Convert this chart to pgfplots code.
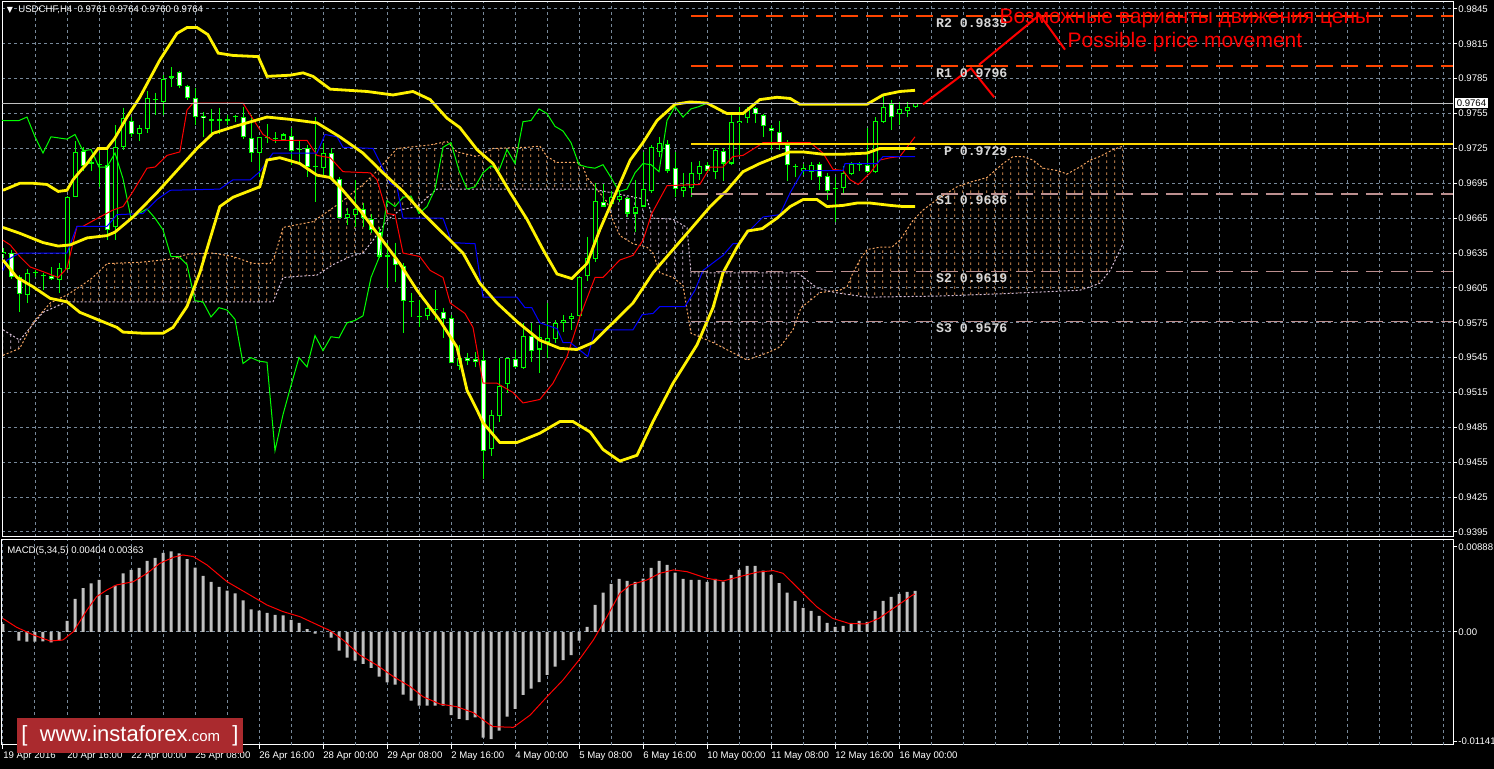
\documentclass[border=0pt]{standalone}
\usepackage{fontspec}
\setmainfont{Liberation Sans}
\newfontfamily\monofont{Liberation Mono}
\newfontfamily\symfont{DejaVu Sans}
\usepackage{pgfplots}
\usepackage{pgfplotstable}
\pgfplotsset{compat=1.18}
\usepgfplotslibrary{fillbetween}
\usetikzlibrary{patterns}

\definecolor{gridc}{RGB}{119,136,153}
\definecolor{cgreen}{RGB}{0,255,0}
\definecolor{sandy}{RGB}{244,164,96}
\definecolor{thist}{RGB}{216,191,216}
\definecolor{rosy}{RGB}{188,143,143}
\definecolor{ored}{RGB}{255,69,0}
\definecolor{gold}{RGB}{255,215,0}
\definecolor{silv}{RGB}{192,192,192}
\definecolor{logored}{RGB}{170,42,46}
\definecolor{pivtxt}{RGB}{215,215,215}

% dotted vertical hatch of the Ichimoku cloud, one line per bar
\pgfdeclarepatternformonly{kumo}{\pgfpointorigin}{\pgfpoint{4pt}{3pt}}{\pgfpoint{4pt}{3pt}}{%
  \pgfsetlinewidth{0.4pt}%
  \pgfpathmoveto{\pgfpoint{1.5pt}{0pt}}%
  \pgfpathlineto{\pgfpoint{1.5pt}{1.5pt}}%
  \pgfusepath{stroke}}

% USDCHF H4 candles, bar index i (0 = 19 Apr 08:00)
\pgfplotstableread{
i o h l c
0 0.9634 0.9639 0.9631 0.9636
1 0.9635 0.9638 0.9613 0.9614
2 0.9614 0.9616 0.9584 0.9600
3 0.9599 0.9621 0.9592 0.9618
4 0.9618 0.9620 0.9614 0.9618
5 0.9615 0.9618 0.9603 0.9615
6 0.9615 0.9623 0.9612 0.9613
7 0.9612 0.9626 0.9601 0.9622
8 0.9621 0.9684 0.9620 0.9683
9 0.9683 0.9731 0.9683 0.9722
10 0.9723 0.9726 0.9706 0.9710
11 0.9712 0.9715 0.9706 0.9712
12 0.9711 0.9721 0.9692 0.9711
13 0.9711 0.9724 0.9646 0.9655
14 0.9657 0.9745 0.9646 0.9726
15 0.9726 0.9760 0.9724 0.9751
16 0.9749 0.9752 0.9735 0.9737
17 0.9737 0.9745 0.9731 0.9743
18 0.9742 0.9774 0.9738 0.9768
19 0.9767 0.9773 0.9754 0.9767
20 0.9765 0.9788 0.9754 0.9785
21 0.9786 0.9795 0.9778 0.9786
22 0.9791 0.9792 0.9777 0.9779
23 0.9779 0.9780 0.9767 0.9768
24 0.9768 0.9777 0.9745 0.9752
25 0.9753 0.9756 0.9735 0.9751
26 0.9749 0.9759 0.9735 0.9749
27 0.9749 0.9760 0.9737 0.9749
28 0.9749 0.9754 0.9745 0.9749
29 0.9752 0.9754 0.9748 0.9752
30 0.9752 0.9761 0.9733 0.9735
31 0.9734 0.9754 0.9713 0.9721
32 0.9721 0.9735 0.9700 0.9735
33 0.9734 0.9746 0.9730 0.9734
34 0.9734 0.9739 0.9730 0.9733
35 0.9732 0.9738 0.9731 0.9737
36 0.9736 0.9743 0.9711 0.9723
37 0.9724 0.9731 0.9712 0.9724
38 0.9725 0.9728 0.9700 0.9709
39 0.9709 0.9752 0.9679 0.9709
40 0.9708 0.9730 0.9700 0.9721
41 0.9721 0.9725 0.9698 0.9699
42 0.9699 0.9700 0.9665 0.9665
43 0.9665 0.9674 0.9659 0.9669
44 0.9668 0.9698 0.9657 0.9673
45 0.9673 0.9678 0.9657 0.9665
46 0.9664 0.9669 0.9652 0.9655
47 0.9653 0.9657 0.9631 0.9632
48 0.9632 0.9644 0.9605 0.9632
49 0.9631 0.9644 0.9610 0.9625
50 0.9624 0.9626 0.9566 0.9594
51 0.9593 0.9601 0.9580 0.9593
52 0.9580 0.9595 0.9571 0.9580
53 0.9581 0.9592 0.9577 0.9588
54 0.9586 0.9603 0.9577 0.9586
55 0.9584 0.9588 0.9562 0.9578
56 0.9579 0.9582 0.9540 0.9540
57 0.9538 0.9556 0.9534 0.9545
58 0.9545 0.9549 0.9539 0.9542
59 0.9544 0.9550 0.9537 0.9541
60 0.9543 0.9552 0.9441 0.9465
61 0.9466 0.9500 0.9460 0.9496
62 0.9495 0.9545 0.9490 0.9521
63 0.9522 0.9545 0.9515 0.9545
64 0.9544 0.9552 0.9536 0.9537
65 0.9536 0.9575 0.9535 0.9564
66 0.9564 0.9575 0.9541 0.9551
67 0.9552 0.9573 0.9532 0.9563
68 0.9558 0.9592 0.9545 0.9562
69 0.9561 0.9577 0.9558 0.9575
70 0.9575 0.9582 0.9567 0.9577
71 0.9578 0.9583 0.9569 0.9581
72 0.9581 0.9614 0.9577 0.9614
73 0.9615 0.9649 0.9611 0.9631
74 0.9630 0.9695 0.9627 0.9680
75 0.9679 0.9694 0.9675 0.9675
76 0.9677 0.9688 0.9675 0.9683
77 0.9681 0.9689 0.9679 0.9684
78 0.9682 0.9683 0.9666 0.9669
79 0.9669 0.9698 0.9653 0.9675
80 0.9675 0.9722 0.9675 0.9690
81 0.9688 0.9728 0.9687 0.9726
82 0.9722 0.9735 0.9718 0.9730
83 0.9729 0.9732 0.9704 0.9706
84 0.9708 0.9722 0.9683 0.9690
85 0.9688 0.9704 0.9683 0.9692
86 0.9691 0.9713 0.9683 0.9704
87 0.9703 0.9714 0.9698 0.9710
88 0.9711 0.9713 0.9704 0.9706
89 0.9705 0.9725 0.9699 0.9724
90 0.9723 0.9725 0.9697 0.9712
91 0.9712 0.9754 0.9711 0.9748
92 0.9747 0.9761 0.9719 0.9749
93 0.9751 0.9761 0.9747 0.9759
94 0.9760 0.9761 0.9747 0.9755
95 0.9754 0.9755 0.9735 0.9744
96 0.9743 0.9745 0.9724 0.9740
97 0.9739 0.9749 0.9724 0.9730
98 0.9728 0.9732 0.9697 0.9711
99 0.9709 0.9712 0.9700 0.9709
100 0.9706 0.9712 0.9702 0.9708
101 0.9705 0.9713 0.9698 0.9711
102 0.9712 0.9713 0.9689 0.9700
103 0.9701 0.9704 0.9681 0.9688
104 0.9690 0.9700 0.9662 0.9690
105 0.9691 0.9710 0.9685 0.9704
106 0.9703 0.9713 0.9702 0.9712
107 0.9711 0.9713 0.9706 0.9711
108 0.9711 0.9743 0.9704 0.9705
109 0.9705 0.9752 0.9704 0.9749
110 0.9748 0.9771 0.9747 0.9761
111 0.9763 0.9767 0.9741 0.9752
112 0.9755 0.9765 0.9745 0.9759
113 0.9757 0.9765 0.9752 0.9761
114 0.9761 0.9764 0.9760 0.9764
}\candles

% MACD(5,34,5) histogram
\pgfplotstableread{
i m
0 0.00083
1 0.00003
2 -0.00090
3 -0.00101
4 -0.00101
5 -0.00097
6 -0.00108
7 -0.00090
8 0.00115
9 0.00344
10 0.00458
11 0.00507
12 0.00542
13 0.00385
14 0.00483
15 0.00611
16 0.00646
17 0.00667
18 0.00740
19 0.00771
20 0.00823
21 0.00840
22 0.00819
23 0.00760
24 0.00670
25 0.00583
26 0.00521
27 0.00469
28 0.00431
29 0.00403
30 0.00330
31 0.00236
32 0.00222
33 0.00198
34 0.00177
35 0.00174
36 0.00125
37 0.00094
38 0.00031
39 -0.00017
40 -0.00003
41 -0.00059
42 -0.00194
43 -0.00267
44 -0.00299
45 -0.00333
46 -0.00375
47 -0.00465
48 -0.00524
49 -0.00549
50 -0.00653
51 -0.00715
52 -0.00767
53 -0.00767
54 -0.00767
55 -0.00767
56 -0.00865
57 -0.00906
58 -0.00917
59 -0.00889
60 -0.01101
61 -0.01115
62 -0.01028
63 -0.00882
64 -0.00802
65 -0.00656
66 -0.00590
67 -0.00521
68 -0.00448
69 -0.00361
70 -0.00292
71 -0.00240
72 -0.00090
73 0.00052
74 0.00281
75 0.00410
76 0.00500
77 0.00552
78 0.00531
79 0.00521
80 0.00556
81 0.00667
82 0.00740
83 0.00698
84 0.00618
85 0.00552
86 0.00542
87 0.00542
88 0.00521
89 0.00552
90 0.00524
91 0.00594
92 0.00646
93 0.00688
94 0.00688
95 0.00639
96 0.00594
97 0.00510
98 0.00410
99 0.00323
100 0.00250
101 0.00219
102 0.00167
103 0.00094
104 0.00052
105 0.00063
106 0.00087
107 0.00115
108 0.00104
109 0.00219
110 0.00323
111 0.00365
112 0.00396
113 0.00417
114 0.00427
}\macd

\newcommand\tl{\fontsize{4.8pt}{5.5pt}\selectfont}

\pgfplotsset{
  mt/.style={
    scale only axis, anchor=south west, width=725.5pt,
    xmin=-0.125, xmax=181.25,
    axis line style={white, line width=0.5pt},
    tick style={white, line width=0.5pt},
    tick align=outside, major tick length=2pt,
    ytick pos=right, yticklabel pos=right,
    major grid style={gridc, line width=0.5pt, dash pattern=on 1.5pt off 1.5pt},
    tick label style={white, font=\tl},
    yticklabel style={anchor=west, inner sep=0pt, xshift=0.5pt},
    scaled ticks=false,
  },
  candle/.style={only marks, mark=text, text mark={}, error bars/.cd, y dir=plus, y explicit, error mark=none},
}

\pagecolor{black}

\begin{document}
\begin{tikzpicture}

% ---------------- price window ----------------
\begin{axis}[mt, at={(1pt,116pt)}, height=267.5pt,
  ymin=0.93907, ymax=0.98510,
  xtick={4,8,...,180}, xticklabels={}, xtick style={draw=none}, xmajorgrids=true,
  ytick={0.9395,0.9425,0.9455,0.9485,0.9515,0.9545,0.9575,0.9605,0.9635,0.9665,0.9695,0.9725,0.9755,0.9785,0.9815,0.9845},
  yticklabels={0.9395,0.9425,0.9455,0.9485,0.9515,0.9545,0.9575,0.9605,0.9635,0.9665,0.9695,0.9725,0.9755,0.9785,0.9815,0.9845},
  ymajorgrids=true]

% Ichimoku cloud: Senkou Span A and B
\addplot[name path=A, sandy, line width=0.5pt, dash pattern=on 1pt off 1pt] coordinates {
(0,0.9547) (2.1,0.9553) (3.75,0.9575) (5.9,0.9592) (8,0.9599) (9.6,0.9606) (11.25,0.9614) (13,0.9626)
(17.1,0.9627) (21.25,0.9630) (23,0.9634) (26.25,0.9635) (28.75,0.9632) (31.25,0.9626) (33.4,0.9626)
(34,0.9633) (35,0.9657) (38.75,0.9662) (42.1,0.9678) (45,0.9694) (46.25,0.9702) (48.75,0.9721)
(49.25,0.9725) (53.4,0.9728) (55.5,0.9731) (56.75,0.9722) (59.25,0.9718) (61.25,0.9725) (65.5,0.9726)
(67.1,0.9727) (68,0.9718) (69.25,0.9713) (71.75,0.9713) (72.5,0.9709) (73,0.9700) (73.75,0.9694)
(75.5,0.9679) (76.25,0.9663) (77.1,0.9650) (78.75,0.9643) (80.5,0.9640) (81.25,0.9635) (82.1,0.9618)
(83.75,0.9614) (85,0.9607) (86,0.9566) (88.75,0.9558) (93,0.9543) (95.5,0.9549) (97.1,0.9554)
(98.75,0.9569) (99.75,0.9588) (100.5,0.9592) (102.1,0.9601) (104.6,0.9603) (105.5,0.9606)
(106.25,0.9618) (107.1,0.9629) (108,0.9638) (109.6,0.9640) (111.1,0.9640) (112.1,0.9646)
(113.75,0.9663) (115,0.9672) (116.75,0.9681) (119.25,0.9692) (120.9,0.9696) (123,0.9700)
(125,0.9712) (126.25,0.9718) (127.5,0.9718) (128.75,0.9715) (130,0.9708) (131.75,0.9706)
(133,0.9703) (134.6,0.9709) (135.9,0.9715) (137.1,0.9718) (138.75,0.9724) (140,0.9727)};
\addplot[name path=B, thist, line width=0.5pt, dash pattern=on 1pt off 1pt] coordinates {
(0,0.9569) (2.1,0.9560) (5,0.9584) (8,0.9593) (33.75,0.9593) (34.25,0.9601) (35,0.9614) (39.25,0.9616)
(41.25,0.9625) (43.4,0.9632) (45,0.9635) (46.25,0.9646) (48,0.9663) (49.6,0.9672) (51.75,0.9675)
(53.4,0.9685) (54.25,0.9690) (73.75,0.9690) (80.5,0.9681) (81.25,0.9665) (83.75,0.9664) (85.5,0.9657)
(86,0.9618) (99,0.9618) (99.5,0.9617) (101.75,0.9605) (104,0.9601) (108,0.9597) (117,0.9598)
(125,0.9600) (134.6,0.9603) (135.5,0.9605) (137.1,0.9609) (138.4,0.9620) (140,0.9643)};
\addplot[draw=none, pattern=kumo, pattern color=thist] fill between[of=A and B, soft clip={domain=0:5.8}];
\addplot[draw=none, pattern=kumo, pattern color=sandy] fill between[of=A and B, soft clip={domain=5.8:74.2}];
\addplot[draw=none, pattern=kumo, pattern color=thist] fill between[of=A and B, soft clip={domain=74.2:103.5}];
\addplot[draw=none, pattern=kumo, pattern color=sandy] fill between[of=A and B, soft clip={domain=103.5:140}];

% candles: wicks, body outline, hollow bull / white bear bodies
\addplot[cgreen, only marks, mark=text, text mark={}, error bars/.cd, y dir=minus, y explicit, error mark=none,
  error bar style={line width=0.5pt}]
  table[x=i, y=h, y error expr={\thisrow{h}-\thisrow{l}}] {\candles};
\addplot[cgreen, candle, error bar style={line width=2.5pt}]
  table[x=i, y expr={min(\thisrow{o},\thisrow{c})}, y error expr={max(abs(\thisrow{c}-\thisrow{o}),0.00009)}] {\candles};
\addplot[white, restrict expr to domain={\thisrow{o}-\thisrow{c}}{0.00019:1}, candle, error bar style={line width=1.5pt}]
  table[x=i, y expr={\thisrow{c}+0.00009}, y error expr={\thisrow{o}-\thisrow{c}-0.00018}] {\candles};
\addplot[black, restrict expr to domain={\thisrow{c}-\thisrow{o}}{0.00019:1}, candle, error bar style={line width=1.5pt}]
  table[x=i, y expr={\thisrow{o}+0.00009}, y error expr={\thisrow{c}-\thisrow{o}-0.00018}] {\candles};

% Chikou span: close shifted 26 bars back
\addplot[cgreen, line width=0.5pt] table[x expr={\thisrow{i}-26}, y=c] {\candles};
% Tenkan-sen
\addplot[red, line width=0.5pt] coordinates {
(0,0.9646) (0.9,0.9642) (2.1,0.9632) (3.4,0.9623) (5,0.9619) (6.9,0.9614) (8,0.9622) (9.25,0.9658)
(10,0.9658) (12.1,0.9666) (13.75,0.9672) (15,0.9675) (16.25,0.9688) (18,0.9708) (19,0.9709)
(20.5,0.9719) (22.1,0.9722) (23,0.9758) (23.75,0.9764) (30,0.9764) (30.9,0.9754) (32.5,0.9737)
(33.75,0.9732) (38,0.9732) (39.25,0.9719) (40.9,0.9717) (42.5,0.9705) (45.9,0.9704) (46.75,0.9698)
(48,0.9669) (49,0.9668) (50,0.9635) (52.1,0.9632) (53.4,0.9620) (55,0.9614) (55.9,0.9592)
(57.75,0.9583) (58.75,0.9571) (60,0.9523) (61.75,0.9523) (63.75,0.9515) (65,0.9506) (67.1,0.9509)
(68.75,0.9523) (70.5,0.9546) (72.1,0.9580) (74,0.9614) (75,0.9614) (77.1,0.9629) (78.75,0.9633)
(80,0.9646) (81.1,0.9669) (83,0.9693) (87.1,0.9694) (88.4,0.9709) (90,0.9709) (91.25,0.9718)
(92.5,0.9719) (94.6,0.9728) (95,0.9730) (100.9,0.9730) (102.5,0.9721) (103.75,0.9707) (105,0.9706)
(105.9,0.9698) (106.9,0.9694) (108.4,0.9704) (109.6,0.9715) (110.9,0.9717) (112.1,0.9718) (114,0.9735)};
% Kijun-sen
\addplot[blue, line width=0.5pt] coordinates {
(0,0.9620) (0.5,0.9629) (2.1,0.9635) (8,0.9635) (9.25,0.9658) (13,0.9658) (14.25,0.9668) (17.5,0.9669)
(19.25,0.9681) (20.9,0.9689) (27.1,0.9690) (28.75,0.9698) (30.9,0.9698) (32.1,0.9705) (33.75,0.9721)
(39.25,0.9721) (40.25,0.9737) (41.75,0.9735) (42.5,0.9726) (46.25,0.9725) (48.4,0.9695) (49.25,0.9692)
(50,0.9665) (55,0.9665) (56.1,0.9644) (59,0.9643) (60,0.9597) (64.25,0.9597) (65.25,0.9588)
(66.1,0.9588) (67.1,0.9575) (69.25,0.9570) (70,0.9558) (70.9,0.9558) (73.1,0.9546) (74,0.9569)
(78.75,0.9569) (79.9,0.9582) (81.25,0.9583) (82.1,0.9589) (85.25,0.9589) (86.5,0.9603) (87.5,0.9620)
(90,0.9633) (91.25,0.9643) (92.1,0.9643) (93.4,0.9655) (95,0.9666) (97.1,0.9668) (98.4,0.9687)
(100,0.9706) (105,0.9706) (105.25,0.9712) (109.25,0.9712) (110,0.9718) (114,0.9718)};

% Bollinger bands
\addplot[yellow, line width=1.4pt] coordinates {
(0,0.9689) (2.1,0.9695) (3.75,0.9695) (5.5,0.9694) (6.9,0.9688) (8,0.9689) (8.75,0.9698) (9.6,0.9705)
(10.5,0.9712) (11.9,0.9725) (13,0.9725) (14,0.9734) (15.5,0.9752) (17.1,0.9769) (19.6,0.9801)
(21.75,0.9824) (23,0.9829) (24.25,0.9829) (25.6,0.9823) (26.9,0.9807) (28.75,0.9805) (31.9,0.9804)
(33,0.9787) (35.9,0.9788) (37.5,0.9790) (38.75,0.9787) (40.9,0.9776) (45.5,0.9774) (48.75,0.9771)
(51.25,0.9774) (53.4,0.9767) (55.5,0.9751) (57.1,0.9743) (59.25,0.9724) (61.25,0.9712) (63.4,0.9687)
(65.5,0.9664) (67.5,0.9638) (69.25,0.9617) (71.1,0.9613) (73,0.9626) (74.6,0.9655) (76.75,0.9689)
(78.4,0.9715) (80,0.9730) (81.75,0.9749) (84,0.9763) (85.9,0.9765) (88,0.9764) (90.5,0.9755)
(92.5,0.9755) (94.6,0.9767) (96.75,0.9769) (98.4,0.9768) (99.6,0.9763) (104.6,0.9763) (108,0.9763)
(110,0.9771) (112.1,0.9774) (114,0.9775)};
\addplot[yellow, line width=1.4pt] coordinates {
(0,0.9657) (2.1,0.9652) (5,0.9644) (6.9,0.9641) (8.4,0.9642) (10.5,0.9648) (13,0.9650) (14,0.9653)
(16.25,0.9666) (19.25,0.9687) (21.75,0.9706) (24.25,0.9725) (26.25,0.9738) (29,0.9744) (33,0.9752)
(35.9,0.9750) (39.25,0.9747) (42.1,0.9735) (45,0.9721) (47.5,0.9704) (50,0.9688) (52.5,0.9669)
(55,0.9652) (57.5,0.9635) (59.6,0.9609) (61.75,0.9592) (64.25,0.9576) (67.1,0.9560) (69.6,0.9553)
(71.75,0.9552) (73.75,0.9558) (76.25,0.9575) (78.75,0.9592) (81.25,0.9618) (83.75,0.9638)
(85.9,0.9655) (88.4,0.9675) (90.5,0.9689) (92.5,0.9705) (94.6,0.9712) (96.75,0.9718) (98.4,0.9722)
(100,0.9722) (102.5,0.9720) (105,0.9720) (108,0.9721) (109.6,0.9725) (111.75,0.9725) (114,0.9725)};
\addplot[yellow, line width=1.4pt] coordinates {
(0,0.9629) (1.75,0.9614) (3.75,0.9606) (5.9,0.9596) (8,0.9593) (9.6,0.9584) (12.1,0.9577)
(14.25,0.9571) (15,0.9567) (17.5,0.9566) (20,0.9566) (21.25,0.9571) (23,0.9589) (24.6,0.9618)
(27.1,0.9675) (28.75,0.9683) (32.1,0.9692) (33,0.9715) (34.6,0.9717) (37.1,0.9712) (39.25,0.9702)
(40.9,0.9700) (42.1,0.9692) (44.6,0.9672) (47.1,0.9649) (49.6,0.9626) (51.75,0.9603) (54.6,0.9577)
(56.75,0.9554) (58,0.9517) (59.25,0.9500) (60,0.9489) (62.1,0.9472) (64.25,0.9472) (67.1,0.9480)
(69.6,0.9490) (71.25,0.9490) (73.4,0.9481) (75,0.9466) (77.1,0.9456) (79.25,0.9461) (81.25,0.9490)
(83.75,0.9523) (86.75,0.9556) (88.75,0.9588) (90,0.9618) (91.75,0.9640) (93.1,0.9654) (94.9,0.9656)
(96.75,0.9665) (98.4,0.9675) (100,0.9681) (101.75,0.9681) (103,0.9675) (105,0.9676) (106.75,0.9678)
(108.4,0.9678) (110.9,0.9676) (112.5,0.9675) (114,0.9675)};

% current bid line and pivot levels
\addplot[silv, line width=0.5pt] coordinates {(-0.125,0.9764) (181.25,0.9764)};
\addplot[ored, line width=0.8pt, dash pattern=on 8.5pt off 4pt] coordinates {(86,0.9839) (181.25,0.9839)};
\addplot[ored, line width=0.8pt, dash pattern=on 8.5pt off 4pt] coordinates {(86,0.9796) (181.25,0.9796)};
\addplot[gold, line width=0.8pt] coordinates {(86,0.9729) (181.25,0.9729)};
\addplot[rosy, line width=0.8pt, dash pattern=on 8.5pt off 4pt] coordinates {(86,0.9686) (181.25,0.9686)};
\addplot[rosy, line width=0.8pt, dash pattern=on 8.5pt off 4pt] coordinates {(86,0.9619) (181.25,0.9619)};
\addplot[rosy, line width=0.8pt, dash pattern=on 8.5pt off 4pt] coordinates {(86,0.9576) (181.25,0.9576)};

% forecast zigzags
\addplot[red, line width=1pt] coordinates {(115,0.9763) (121,0.9794) (123.9,0.9769)};
\addplot[red, line width=1pt] coordinates {(122,0.9797) (129.6,0.9840) (132.75,0.9810)};

\begin{scope}[every node/.style={anchor=north east, inner sep=0pt, text=pivtxt,
    font=\monofont\bfseries\fontsize{6.6pt}{7pt}\selectfont, yshift=-1pt}]
\node at (axis cs:125.6,0.9839) {R2 0.9839};
\node at (axis cs:125.6,0.9796) {R1 0.9796};
\node at (axis cs:125.6,0.9729) {P 0.9729};
\node at (axis cs:125.6,0.9686) {S1 0.9686};
\node at (axis cs:125.6,0.9619) {S2 0.9619};
\node at (axis cs:125.6,0.9576) {S3 0.9576};
\end{scope}
\end{axis}

% ---------------- MACD window ----------------
\begin{axis}[mt, at={(1pt,12pt)}, height=102.5pt,
  ymin=-0.01177, ymax=0.00958,
  xtick={0,8,...,112}, xtick pos=left,
  xticklabels={19 Apr 2016,20 Apr 16:00,22 Apr 00:00,25 Apr 08:00,26 Apr 16:00,28 Apr 00:00,29 Apr 08:00,2 May 16:00,4 May 00:00,5 May 08:00,6 May 16:00,10 May 00:00,11 May 08:00,12 May 16:00,16 May 00:00},
  xticklabel style={anchor=north west, inner sep=0pt, yshift=-1pt},
  xmajorgrids=true,
  extra x ticks={4,12,20,28,36,44,52,60,68,76,84,92,100,108,116,120,124,128,132,136,140,144,148,152,156,160,164,168,172,176,180},
  extra x tick labels={},
  extra x tick style={xmajorgrids=true, major tick length=0pt},
  ytick={0.00888,-0.01141}, yticklabels={0.00888,-0.01141},
  extra y ticks={0}, extra y tick labels={0.00}, extra y tick style={ymajorgrids=true}]
\addplot[ybar, bar width=1.5pt, bar shift=0pt, fill=silv, draw=none] table[x=i, y=m] {\macd};
\addplot[red, line width=0.5pt] coordinates {
(0,0.00140) (1.7,0.00049) (3.8,-0.00031) (5.9,-0.00094) (7.5,-0.00083) (8.8,0.00003) (10.5,0.00229)
(11.7,0.00368) (13,0.00438) (14.2,0.00490) (16.3,0.00524) (18,0.00611) (19.6,0.00715) (21.3,0.00778)
(22.5,0.00802) (23.8,0.00785) (25.5,0.00698) (28,0.00524) (30.5,0.00403) (33,0.00281) (35,0.00212)
(37.1,0.00160) (39.6,0.00063) (40.9,0.00014) (42.5,-0.00083) (44.6,-0.00240) (46.7,-0.00344)
(48.8,-0.00465) (50.9,-0.00569) (52.5,-0.00674) (54.6,-0.00750) (56.7,-0.00778) (58.8,-0.00840)
(60.9,-0.00969) (61.3,-0.00986) (63.8,-0.00993) (65.9,-0.00865) (68,-0.00674) (70,-0.00500)
(72,-0.00292) (73.8,-0.00083) (75.5,0.00160) (77.1,0.00403) (78.4,0.00490) (80.5,0.00542)
(82.1,0.00611) (83.8,0.00646) (85.5,0.00628) (88,0.00559) (90,0.00531) (92.1,0.00576) (94.2,0.00622)
(96.3,0.00639) (97.5,0.00611) (99.6,0.00438) (101.7,0.00264) (103.7,0.00142) (105.7,0.00090)
(107.8,0.00083) (109.5,0.00142) (111.6,0.00264) (113.7,0.00385) (114,0.00395)};
\end{axis}

% ---------------- labels ----------------
\node[white, inner sep=0pt, font=\symfont\fontsize{4pt}{4pt}\selectfont] at (5pt,379.5pt) {▼};
\node[anchor=west, white, inner sep=0pt, font=\tl] at (9pt,379.5pt) {USDCHF,H4\ \ 0.9761 0.9764 0.9760 0.9764};
\node[anchor=west, white, inner sep=0pt, font=\tl] at (3.5pt,109pt) {MACD(5,34,5) 0.00404 0.00363};
\node[anchor=west, fill=white, text=black, inner sep=0.7pt, font=\tl] at (727.5pt,333pt) {0.9764};
\node[red, inner sep=0pt, font=\fontsize{10.5pt}{12pt}\selectfont] at (592.5pt,375.5pt) {Возможные варианты движения цены};
\node[red, inner sep=0pt, font=\fontsize{10.5pt}{12pt}\selectfont] at (592.5pt,363.5pt) {Possible price movement};
\fill[logored] (8.5pt,8pt) rectangle (121.5pt,25.5pt);
\node[white, inner sep=0pt, font=\fontsize{11pt}{12pt}\selectfont] at (65pt,16.75pt)
  {[\ \ www.instaforex{\fontsize{7.5pt}{8pt}\selectfont.com}\ \ ]};
\pgfresetboundingbox
\path[use as bounding box] (0pt,0pt) rectangle (747pt,384.5pt);
\end{tikzpicture}
\end{document}
